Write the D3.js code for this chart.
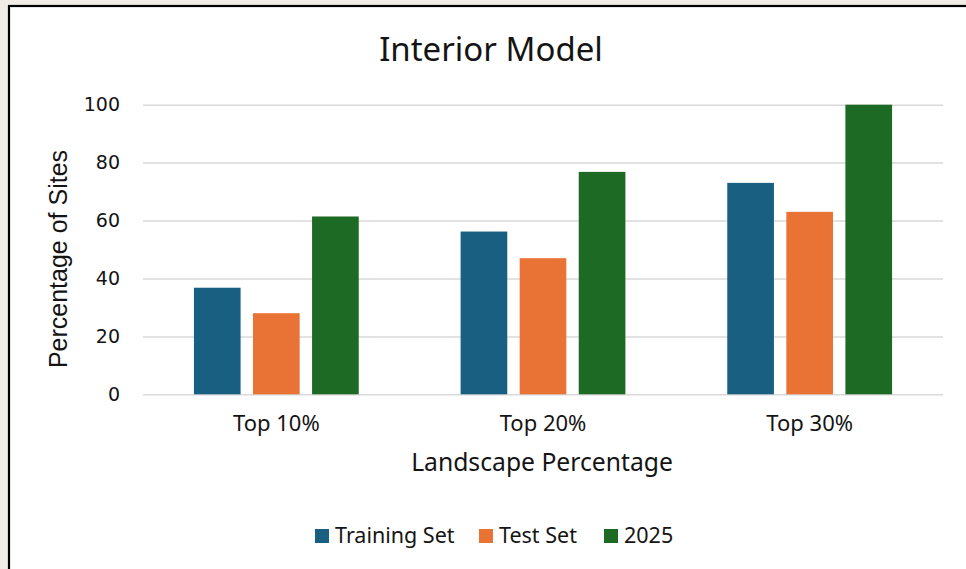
<!DOCTYPE html>
<html>
<head>
<meta charset="utf-8">
<script src="https://cdn.jsdelivr.net/npm/d3@7"></script>
<style>
  html, body { margin: 0; padding: 0; background: #f1ece5; }
  svg { display: block; }
</style>
</head>
<body>
<svg width="966" height="569"></svg>
<script>
const categories = ["Top 10%", "Top 20%", "Top 30%"];
const seriesNames = ["Training Set", "Test Set", "2025"];
const trainingSet = [36.8, 56.2, 73];
const testSet = [28, 47, 63];
const year2025 = [61.4, 76.8, 100];
const yTicks = [0, 20, 40, 60, 80, 100];
const colors = ["#185f81", "#e97334", "#1c6a24"];

const seriesValues = [trainingSet, testSet, year2025];

const svg = d3.select("svg");
const textColor = "#141414";
const mainFont = "'Noto Sans', sans-serif";
const tickFont = "'DejaVu Sans', sans-serif";
const yTitleFont = "'Liberation Sans', Arial, sans-serif";

// chart panel
svg.append("rect")
  .attr("x", 9)
  .attr("y", 6)
  .attr("width", 980)
  .attr("height", 600)
  .attr("fill", "#ffffff")
  .attr("stroke", "#000000")
  .attr("stroke-width", 2.2);

const x0 = d3.scaleBand()
  .domain(categories)
  .range([143, 943])
  .paddingInner(0.382)
  .paddingOuter(0.191);

const x1 = d3.scaleBand()
  .domain(seriesNames)
  .range([0, x0.bandwidth()])
  .paddingInner(0.21);

const y = d3.scaleLinear().domain([0, 100]).range([394.3, 104.7]);

svg.append("text")
  .attr("x", 491)
  .attr("y", 61)
  .attr("text-anchor", "middle")
  .attr("font-family", mainFont)
  .attr("font-size", "33px")
  .attr("fill", textColor)
  .text("Interior Model");

// gridlines
const grid = svg.append("g")
  .attr("transform", "translate(143,0)")
  .call(d3.axisLeft(y).tickValues(yTicks).tickSize(-800).tickFormat(""));
grid.select(".domain").remove();
grid.selectAll(".tick line").attr("stroke", "#d9d9d9").attr("stroke-width", 1.5);

// y tick labels
const yAxis = svg.append("g")
  .attr("transform", "translate(143,0)")
  .call(d3.axisLeft(y).tickValues(yTicks).tickSize(0).tickPadding(23));
yAxis.select(".domain").remove();
yAxis.selectAll("text")
  .attr("font-family", tickFont)
  .attr("font-size", "19px")
  .attr("fill", textColor);

svg.append("text")
  .attr("transform", "translate(67,259) rotate(-90)")
  .attr("text-anchor", "middle")
  .attr("font-family", yTitleFont)
  .attr("font-size", "25px")
  .attr("fill", textColor)
  .text("Percentage of Sites");

// bars
const groups = svg.append("g")
  .selectAll("g")
  .data(categories)
  .join("g")
  .attr("transform", d => `translate(${x0(d)},0)`);

groups.selectAll("rect")
  .data((d, i) => seriesNames.map((s, j) => ({ s: s, v: seriesValues[j][i], c: colors[j] })))
  .join("rect")
  .attr("x", d => x1(d.s))
  .attr("y", d => y(d.v))
  .attr("width", x1.bandwidth())
  .attr("height", d => y(0) - y(d.v))
  .attr("fill", d => d.c);

// x axis labels
const xAxis = svg.append("g")
  .attr("transform", "translate(0,394.3)")
  .call(d3.axisBottom(x0).tickSize(0).tickPadding(21));
xAxis.select(".domain").remove();
xAxis.selectAll("text")
  .attr("font-family", mainFont)
  .attr("font-size", "22px")
  .attr("fill", textColor);

svg.append("text")
  .attr("x", 542)
  .attr("y", 471)
  .attr("text-anchor", "middle")
  .attr("font-family", mainFont)
  .attr("font-size", "24.7px")
  .attr("fill", textColor)
  .text("Landscape Percentage");

// legend
const legendX = [315, 479, 604];
const legend = svg.append("g")
  .selectAll("g")
  .data(seriesNames)
  .join("g")
  .attr("transform", (d, i) => `translate(${legendX[i]},529)`);

legend.append("rect")
  .attr("width", 14)
  .attr("height", 14)
  .attr("fill", (d, i) => colors[i]);

legend.append("text")
  .attr("x", 20)
  .attr("y", 13.5)
  .attr("font-family", mainFont)
  .attr("font-size", "21.5px")
  .attr("fill", textColor)
  .text(d => d);
</script>
</body>
</html>
